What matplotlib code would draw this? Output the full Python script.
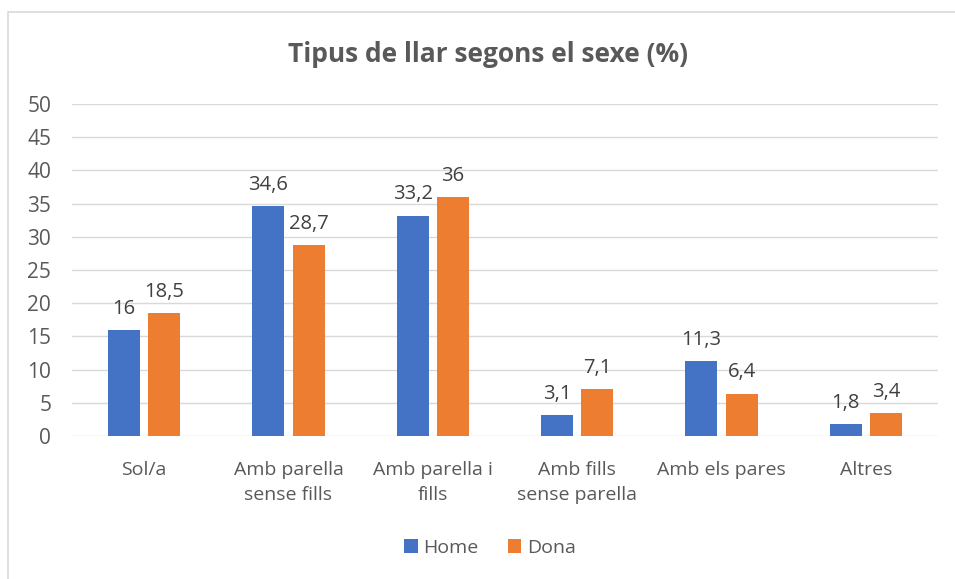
import numpy as np
import matplotlib
matplotlib.use("Agg")
import matplotlib.pyplot as plt
from matplotlib.patches import Rectangle

categories = ["Sol/a", "Amb parella\nsense fills", "Amb parella i\nfills",
              "Amb fills\nsense parella", "Amb els pares", "Altres"]
home = [16, 34.6, 33.2, 3.1, 11.3, 1.8]
dona = [18.5, 28.7, 36, 7.1, 6.4, 3.4]
yticks = list(range(0, 55, 5))

plt.rcParams['font.family'] = ['Open Sans', 'DejaVu Sans']
text_col = '#595959'

fig = plt.figure(figsize=(9.55, 5.79), dpi=100)
ax = fig.add_axes([72 / 955, 1 - 436 / 579, (938 - 72) / 955, (436 - 104) / 579])

# chart border (only left and top visible in the crop)
fig.patches.append(Rectangle((8 / 955, -0.01), 1.0, (579 - 12) / 579 + 0.01,
                             transform=fig.transFigure, fill=False,
                             edgecolor='#D9D9D9', linewidth=1.2))

x = np.arange(len(categories))
w = 0.22
off = 0.14
b1 = ax.bar(x - off, home, w, color='#4472C4', label='Home', zorder=3)
b2 = ax.bar(x + off, dona, w, color='#ED7D31', label='Dona', zorder=3)

def fmt(v):
    s = ('%g' % v).replace('.', ',')
    return s

for bars, vals in ((b1, home), (b2, dona)):
    for r, v in zip(bars, vals):
        ax.annotate(fmt(v), (r.get_x() + r.get_width() / 2, v),
                    xytext=(0, 8), textcoords='offset points',
                    ha='center', va='bottom', fontsize=14.5, color='#404040')

ax.set_xlim(-0.5, len(categories) - 0.5)
ax.set_ylim(0, 50)
ax.set_yticks(yticks)
ax.set_yticklabels([str(t) for t in yticks], fontsize=15, color=text_col)
ax.set_xticks(x)
ax.set_xticklabels(categories, fontsize=14, color=text_col, linespacing=1.5)
ax.tick_params(axis='both', length=0)
ax.tick_params(axis='y', pad=15)
ax.tick_params(axis='x', pad=18)
ax.grid(axis='y', color='#D9D9D9', linewidth=1, zorder=0)
for s in ax.spines.values():
    s.set_visible(False)

fig.text(488 / 955, 1 - 55 / 579, 'Tipus de llar segons el sexe (%)', ha='center',
         va='center', fontsize=19, fontweight='bold', color=text_col)

leg = fig.legend(handles=[b1, b2], loc='center', bbox_to_anchor=(490 / 955, 1 - 548 / 579),
                 ncol=2, frameon=False, fontsize=14, handlelength=0.7,
                 handleheight=0.7, handletextpad=0.3, columnspacing=1.5)
for t in leg.get_texts():
    t.set_color(text_col)

fig.savefig('out.png', dpi=100)
